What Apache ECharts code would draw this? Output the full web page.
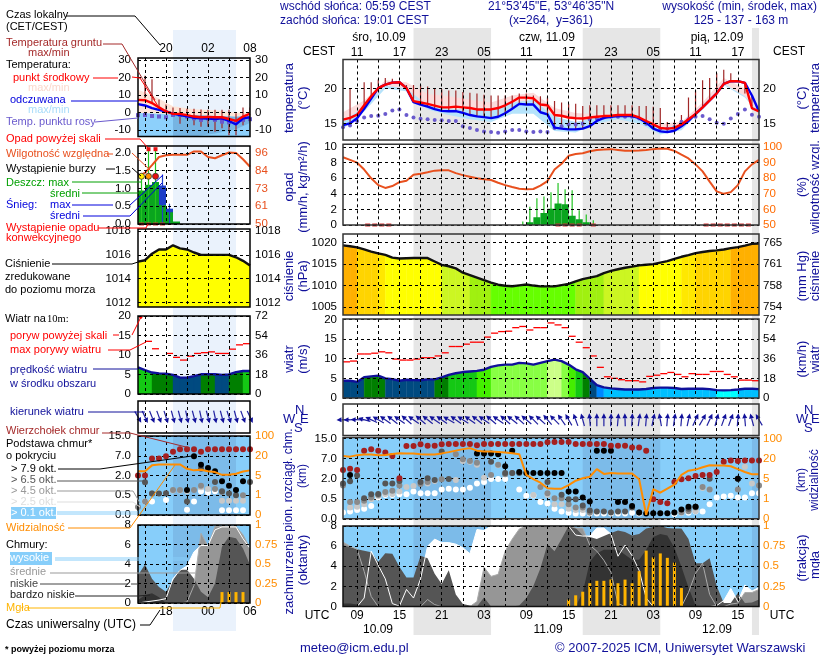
<!DOCTYPE html>
<html lang="pl">
<head>
<meta charset="utf-8">
<title>meteogram</title>
<style>html,body{margin:0;background:#fff}#main{width:820px;height:660px}</style>
</head>
<body>
<div id="main"></div>
<script src="https://cdn.jsdelivr.net/npm/echarts@6/dist/echarts.min.js"></script>
<script>
// hours are counted in UTC from 00:00 on 10.09
var hours = [7,8,9,10,11,12,13,14,15,16,17,18,19,20,21,22,23,24,25,26,27,28,29,30,31,32,33,34,35,36,37,38,39,40,41,42,43,44,45,46,47,48,49,50,51,52,53,54,55,56,57,58,59,60,61,62,63,64,65,66];
var gridHours = [9,12,15,18,21,24,27,30,33,36,39,42,45,48,51,54,57,60,63];
var labelHours = [9,15,21,27,33,39,45,51,57,63];
var nights = [[17,28],[41,52],[65,66]];

// main panels, one value per hour
var temp = [15.55,15.8,16.25,17.6,18.9,20.05,20.55,20.85,20.9,20.05,18.2,18,17.8,17.55,17.3,17.3,17.4,17.3,17.2,17,17,17,17.2,17.6,18.1,18.7,18.7,18.6,17.7,17.6,16.2,16.1,15.85,15.75,15.7,15.85,15.95,16.05,16.1,16.2,16.2,16.2,15.85,15.35,14.85,14.35,14.25,14.35,14.85,15.6,16.35,17.3,18.3,19.3,20.65,21.05,21.05,20.8,19,17.3];
temp[65-7] = 17.2; temp[66-7] = 16.7;
var feels = [14.75,15,15.75,17.1,18.55,20.05,20.55,20.85,20.9,20.05,18.05,17.7,17.4,17.05,16.8,16.75,16.75,16.5,16.2,16,15.9,15.75,15.95,16.45,17.1,17.8,17.7,17.7,16.6,16.3,14.4,14.25,14.15,14.15,14.25,14.6,15.35,15.8,15.95,16.05,16.1,16.05,15.75,15.1,14.25,13.85,13.75,13.95,14.6,15.35,16.35,17.3,18.3,19.3,20.65,21.05,21.05,20.8,19,17.2];
feels[66-7] = 16.7;
var dew = [14.45,14.7,15.35,15.85,16.05,16.1,16.35,16.85,17,16.2,15.85,15.65,15.6,15.5,15.45,15.35,15.35,14.6,14.35,14.05,13.85,13.75,13.65,13.85,14.05,14.05,13.85,13.75,13.85,13.75,14.35,14.6,14.85,14.85,14.95,15.6,15.7,15.85,15.95,15.95,15.95,15.95,15.7,14.95,14.6,14.25,14.25,14.45,15.25,15.6,15.95,16.05,15.6,15.1,14.95,15.7,16.35,17,16.25,15.95];
var groundHours = [8,10,11,12,13,14,15,16,17,18,19,20,21,22,23,24,25,26,27,28,29,30,31,32,33,34,35,36,37,38,39,40,41,42,43,44,45,46,47,48,49,50,51,52,53,54,55,56,57,58,59,60,61,62,63,64,65];
var groundMax = [20,20.9,20.9,21.3,21.5,21.4,20.9,20.5,20.5,20.5,20.3,20,19.9,19.7,19.7,19.5,19.4,19.3,19.1,19,19,19,19,19.3,19.3,19,18.9,18.7,18.2,18,17.8,17.8,17.5,17.6,17.6,17.6,17.6,17.6,17.6,17.6,17.5,17.5,17.4,17.2,15.2,15.2,16.2,18.7,19.7,21.2,21.5,22.2,22.7,22.2,21,19.3,17.5];
var bandHours = [7,10,13,16,19,22,25,28,31,34,37,40,43,46,49,52,55,58,61,64,66];
var tempHi = [16.6,18.3,21.2,20.9,19.2,18.9,18.4,18,19,19.4,17.2,16.5,16.3,16.4,16,15,15.2,18,21.5,20,17.3];
var tempLo = [15.3,17.4,20.3,19.8,17.6,17.1,17,16.8,17.9,18.4,16,15.5,15.9,16,15.6,14.1,14.6,17.1,20.7,18.8,16.5];
var feelsHi = [15.2,17.5,20.4,20,17.6,17.1,17,16.8,18,18.4,16,15.2,15.8,16.1,15.7,14.3,14.8,17.2,20.7,18.9,16.6];
var feelsLo = [14.2,16.7,20,19.6,17,16.2,15.6,15.2,16.4,16.4,13.9,13.7,15,15.6,15,13.4,14,17,20.5,18.7,16.4];

var humidity = [93.5,91.8,90,85.6,80,75.6,73.8,75,77.5,78.4,82.2,82.9,83.8,84.9,85.1,85.1,83.3,82,81,80,79.3,78.9,77.1,75.6,74.4,73.3,72.9,73.1,75.3,78.2,85.6,89.3,94.4,95.6,96,97.3,98.2,98.4,98.7,98.2,97.6,97.6,97.8,98.2,98.7,99.1,98.9,97.6,95.1,92.7,88.9,84.4,77.8,71.6,70,71.1,75.6,84.4,88.9,91.8];
var rainAvgHours = [33,34,35,36,37,38,39,40,41];
var rainAvg = [0.35,1,1.55,2.1,2.75,2.65,1.2,0.75,0.35];
var rainMaxHours = [32,33,34,35,36,37,38,39,40,41,42];
var rainMax = [0.45,2.35,3.45,3.65,4.2,5.4,4.6,4.45,1.9,1.35,0.6];
var convective = [10,11,12,13,37,38,39,40,42,58,59,60,61,62,63,64];

var pressure = [1019.35,1019.15,1018.9,1018.4,1017.9,1017.5,1017.15,1016.5,1016.3,1016.35,1016.4,1016.4,1016.4,1015.6,1014.8,1014.5,1014,1013,1012.45,1011.85,1011.25,1010.7,1010.2,1009.95,1009.85,1010.05,1010.25,1010,1009.8,1009.8,1009.8,1010.1,1010.4,1010.95,1011.5,1011.85,1012.2,1012.9,1013.4,1013.8,1014.15,1014.4,1014.7,1014.85,1015,1015.35,1015.7,1016.2,1016.7,1017.1,1017.55,1017.8,1018.05,1018.2,1018.4,1018.7,1018.95,1019.3,1019.7,1019.8];

var wind = [4.4,4.4,4.1,5.3,5.5,5.7,5,4.8,4.4,4.65,4.55,4.5,4.75,4.75,5.25,5.9,6.3,6.6,6.75,6.9,7.2,7.9,8.3,8.5,8.5,8.95,8.8,8.5,8.95,9.4,9.75,9.4,8.5,7.3,6.6,4.9,3.3,2.7,2.45,2.3,2.15,2.15,2.15,2.3,2.55,2.65,2.65,2.55,2.3,2.35,2.35,2.35,2.25,2,1.95,2,2.15,2.35,2.35,2.25];
var gust = [9.2,9.4,11.2,11.2,11.4,11.75,11.5,9.9,9.65,9.65,9.9,10.25,10.25,10.7,11.5,13.1,13.1,13.7,14.2,14.2,15.5,16.5,16.9,17,17.9,18.2,17.3,17.9,17.9,19.1,18.6,17.9,15.7,14.2,12.8,10.7,7.8,5.4,5,4.65,4.4,4.4,4.1,5.5,5.8,6.2,6.5,6,5.4,6.2,6,6,6.75,6.75,6,5.4,4.55,4.55,4.4];
var windDir = [268,268,272,285,295,300,305,308,305,310,305,310,308,305,305,300,305,303,305,308,305,310,305,310,308,312,310,315,312,320,315,325,330,340,345,355,0,0,2,5,358,3,8,5,12,350,5,8,5,12,25,30,25,15,20,20,5,355,345,330];

var cloudTop = [4.2,4.5,4.2,10.2,10.8,10.2,9.5,8.1,2.1,12,12,12.7,12.1,12.1,12.7,12.8,12.8,12.8,12.8,12.3,12.8,12.8,12.8,12.8,12.8,12.8,12.8,12.8,12.8,13.5,13.6,13.6,13.6,12.8,12.8,12.8,12.8,12.8,12.1,12.1,12.1,11.4,11.4,10.2,0.49,0.42,0.39,1.76,1.95,2.1,2.7,2.95,2.95,3.65,6.2,6.55,6.4,6.55,6.55,6.55];
var base79 = [[8,2.95],[26,9.1],[27,9.1],[28,9.1],[29,8.8],[30,5.1],[31,10.2],[32,3.65],[33,3.4],[34,3.4],[35,3.4],[36,3.4],[37,3.4],[38,3.4],[39,1.04],[40,1.04],[41,0.6],[42,0.43],[43,10.2],[44,10.2],[45,10.2],[46,0.42],[47,0.42],[48,0.32],[49,0.16],[50,0.13],[51,0.14],[52,0.14],[53,0.14],[54,0.16],[55,0.23],[56,0.3],[57,0.3],[63,2]];
var base65 = [[7,1.64],[8,1.8],[9,2.8],[10,0.53],[11,0.83],[12,0.86],[13,1.64],[14,1.64],[15,1.82],[18,1.76],[19,2.1],[20,1.9],[21,9.9],[22,1.97],[28,6.2],[30,3.4],[31,3.4],[32,3.4],[36,1.76],[38,0.8],[39,0.49],[40,0.49],[41,0.33],[42,0.21],[43,0.18],[44,0.18],[45,0.16],[46,0.18],[47,0.18],[48,0.28],[49,0.16],[56,0.25],[57,0.3],[59,2],[63,2]];
var base45 = [[7,1.5],[8,0.42],[9,0.42],[10,0.45],[11,0.6],[12,0.78],[13,1],[14,1.1],[15,1.5],[18,1.6],[19,1.76],[21,1.95],[23,8.8],[24,6.85],[25,6.4],[26,5.95],[28,2.95],[29,5.5],[30,3.1],[31,3.4],[35,1.38],[36,0.92],[37,0.53],[38,0.53],[39,0.36],[40,0.28],[41,0.28],[42,0.16],[55,0.16],[56,0.19],[57,0.28],[58,1.38],[59,1.2],[63,1.2],[66,1.5]];
var base25 = [[8,0.28],[9,0.3],[10,0.36],[11,0.49],[12,0.7],[13,0.86],[14,0.86],[15,1.04],[16,1.38],[17,1.45],[18,1.64],[19,1.64],[20,1.82],[23,1.9],[24,6.4],[25,6.2],[26,5.5],[27,2.25],[29,5.35],[34,0.78],[35,1.45],[36,0.78],[37,0.36],[38,0.36],[39,0.25],[40,0.22],[41,0.22],[42,0.15],[57,0.19],[58,1.3],[59,1.2],[64,5],[65,1.64],[66,1.5]];
var base01 = [[7,0.16],[8,0.18],[9,0.22],[10,0.25],[11,0.32],[12,0.6],[13,0.78],[14,0.78],[15,0.83],[16,0.83],[17,1.04],[18,0.92],[19,0.92],[20,0.92],[21,1.2],[22,1.25],[23,1.2],[24,1.2],[25,1.32],[26,1.64],[27,1.76],[28,1.97],[29,1.97],[30,1.97],[32,1.2],[33,0.72],[34,0.75],[35,0.42],[36,0.38],[37,0.25],[38,0.18],[39,0.15],[40,0.13],[41,0.13],[42,0.13],[43,0.13],[44,0.13],[45,0.13],[46,0.13],[47,0.13],[48,0.15],[49,0.13],[54,0.12],[55,0.15],[56,0.15],[57,0.18],[58,0.18],[59,0.36],[60,0.6],[61,0.66],[62,0.72],[63,0.6],[64,0.6],[65,0.92],[66,0.92]];
var visibility = [31,28,34,37,37,34,35,39,42,41,41,38,37,37,41,46,52,58,62,52,49,49,47,45,42,38,7.9,4.9,4.2,3.1,3,3,3.7,4.6,5.3,6.5,12.2,8.6,9.2,8.9,8.9,8.9,4.9,0.2,2.9,2.2,3,3.8,7.9,11,11.8,13.6,15,14.9,14.9,14.3,12.2,10,8.3,8.3];

var cloudHigh = [0,0,0,0.85,5.5,4.1,2.75,0.3,0.05,1.7,0.85,2.75,6,6.7,6.35,6.35,6.2,5.85,5.25,7.65,7.55,8,8,8,8,8,8,8,8,8,8,8,8,7.1,7,7,7.8,7.8,7.2,5,6.1,5.05,3.6,0.85,0,0,0,0,0,0,0,0,0,0.1,0.6,1.8,0.5,2.15,1.55,1.9];
var cloudMid = [6.4,6,5.7,3.5,1,0,0,0,0,0,0,0,0.7,0.2,0,0,0,0,0,0.5,3.9,3,3.2,5.5,6.7,7.7,8,8,8,8,8,8,8,7.8,7.8,6.1,5.5,4.6,3.4,0.3,0,0,0,0,0,0,0,0,0,1.4,3.3,4.3,1.2,0,0,0.25,0.35,1.4,1.4,1.7];
var cloudLow = [6.1,5.9,5.7,5.55,5.4,4.45,5.3,5.25,3.95,2.9,2.9,5.05,4.8,3.25,2.25,3.6,1.2,0.25,0.1,0,0.9,0,0,0,0,0.1,0.85,2.05,3.8,6.2,5.5,6.7,8,7.8,7.05,6.9,6.7,7,7.3,7.55,7.4,7.05,7.2,7.75,7.9,8,7.8,7.75,7.75,6.7,4.3,4.3,4.8,2.05,0.35,0.35,1.35,0.35,0.4,0.7];
var cloudVeryLow = [0.3,0.3,0.2,0,0,0,0,0,0,0,0,0,0,0,0,0,0,0,0,0,0,0,0,0,0,0,0,0,0,0,0,0,0,0,1.4,4.45,5.3,5.65,5.65,5.65,5.15,4.65,4.65,5.65,6.9,7.2,7.05,5.85,3.95,1.9,0.1,0,0,0,0,0,0,0,0,0];
var fogHours = [39,40,41,42,43,44,45,46,47,48,49,50,51,52,53,54,55];
var fog = [0.086,0.14,0.185,0.29,0.32,0.32,0.335,0.29,0.335,0.29,0.44,0.695,0.61,0.66,0.605,0.545,0.23];

// narrow panels on the left (legend), hours 14 to 30
var lHours = [14,15,16,17,18,19,20,21,22,23,24,25,26,27,28,29,30];
var lGridHours = [15,18,21,24,27];
var lLabelHours = [18,24,30];
var lNight = [[19,28]];
var lTemp = [7.2,7,5.4,2.9,0.6,-0.8,-0.8,-1.5,-2.3,-2.7,-2.5,-2.7,-2.7,-3.7,-4.8,-2.3,-0.6];
var lFeels = [4.8,4,2.5,1.5,0.6,-0.6,-1.5,-2.1,-3,-3.3,-3.5,-3.7,-3.3,-4.8,-6.8,-3.3,-2.7];
var lDew = [-1.5,-1.4,-2,-2.3,-2.7,-1.4,-1.4,-2.3,-3.3,-4.2,-3.3,-4.2,-5.2,-5.6,-5.2,-4.2,-3.8];
var lGroundHours = [15,16,17,18,19,20,21,22,23,24,25,26,27,28,29,30];
var lGroundMax = [20.9,18.9,7.4,4.5,2.9,2.5,2.1,2.1,1.7,1.5,1.5,1.5,1.5,-0.4,2.9,2.9];
var lGroundMin = [8.1,5.4,1.5,-0.4,-2.3,-6.4,-3.3,-7.2,-8.1,-8.1,-11,-9,-13,-13,-7.2,-2.3];
var lBandHours = [14,16,19,22,25,28,30];
var lTempHi = [13,10,3.6,1.8,1.3,-0.2,0];
var lTempLo = [-0.3,-0.6,-1,-1.5,-2,-2.4,-2];
var lFeelsHi = [-0.3,-0.6,-1,-1.5,-2,-2.4,-2];
var lShadeHours = [19,22,25,28,30];
var lShadeHi = [-1,-1.5,-2,-2.4,-2];
var lShadeLo = [-13.7,-13.7,-12,-9.5,-6];
var lHumidity = [81.2,83,88,93.3,94.4,94.7,94.7,94.7,96.9,96.9,93.3,92.5,94.4,96.2,95.8,91.8,87];
var lRainHours = [14,15,16,17,18,19];
var lRain = [0.94,1.1,1.18,0.53,0.33,0.07];
var lSnowHours = [17,18];
var lSnow = [1.08,0.43];
var lRainMaxHours = [14,15,16];
var lRainMax = [1.34,2.1,2.1];
var lSnowMaxHours = [17,18];
var lSnowMax = [1.39,0.57];
var lStorm = [14,15,16];
var lAboveScale = [15,16];
var lConvective = [14,15,16,17];
var lPressure = [1015.44,1015.55,1016.1,1016.45,1016.45,1016.8,1016.55,1016.45,1016.2,1016,1016,1016,1016,1016,1015.8,1015.5,1015.1];
var lWind = [6.8,6.1,5.5,5.3,5.2,4.9,4.2,4.2,4.6,5.05,5.05,5.05,4.9,5,5.6,5.9,5.9];
var lGust = [null,13.5,11.6,null,10.4,9.4,8.7,9.7,10.4,10.6,10.8,10.4,10.4,11.5,12.6,12.9];
var lWindDir = [150,155,158,160,162,165,165,168,165,168,165,168,165,162,165,160,155];
var lCloudTop = [2,2,6.3,6.3,6.85,8.6,9.6,9.6,9.6,8.6,9.6,9.6,9.6,9.6,9.6,9.6,9.6];
var lBase79 = [[21,0.9],[22,6.9],[23,4.75],[24,3.9],[25,3.1],[26,1.56],[27,1.23],[28,0.9],[29,1.56]];
var lBase65 = [[15,1.49],[16,0.64],[17,0.64],[18,0.66],[21,0.34],[23,3.7],[25,1.5],[26,0.8],[27,0.64],[28,0.5],[30,1.5]];
var lBase45 = [[14,0.2],[15,0.34],[16,0.64],[19,0.9],[20,0.9],[22,0.9],[23,1.23],[25,0.98],[26,0.75],[29,0.5]];
var lBase25 = [[19,0.87],[20,0.87],[21,0.8],[23,1.1],[24,0.98],[26,0.36],[27,0.36],[28,0.36],[29,0.36]];
var lBase01 = [[15,0.34],[16,0.34],[18,0.38],[21,0.13],[22,0.34],[23,0.8],[24,0.7],[25,0.8],[26,0.12],[27,0.12],[28,0.12],[29,0.12]];
var lVisibility = [8.3,8.3,12.7,13.4,13.4,13.4,13.4,10.1,8.9,9.4,8.3,7.6,5.5,5.5,6.3,8,8.9];
var lCloudHigh = [0,0.1,0.2,0.3,0.45,2.5,3.35,3.8,5.25,5.9,5.9,7.5,7.8,7.8,7.8,6.6,5.6];
var lCloudMid = [0,0,0,0,0,0,0,0.1,1.8,7.15,5.8,7.85,7.85,7.85,7.85,7,5.6];
var lCloudLow = [2.85,3.95,2.5,1.65,1.15,2.35,3.4,3.4,2.5,1.15,0.6,2,5.8,6.8,6.65,5.6,3.9];
var lCloudVeryLow = [0.3,0.8,1,0.6,0,0,0,0,0,0,0,0,0,0,0,0,0];
var lFogHours = [26,27,28,29];
var lFog = [0.14,0.14,0.14,0.14];

// axis tick labels
var baseKm = [0,0.5,2,7,15];
var baseLabels = ['0.0','0.5','2.0','7.0','15.0'];
var visKm = [0,1,5,20,100];

var FONT = '"Liberation Sans", Arial, sans-serif';
var NAVY = '#10109a';
var ORANGE = '#ff8c00';
var grids = [], xAxes = [], yAxes = [], series = [], graphics = [];

function zip(a, b) { return a.map(function (v, i) { return [v, b[i]]; }); }
function two(h) { h = ((h % 24) + 24) % 24; return (h < 10 ? '0' : '') + h; }
// the cloud height and visibility axes are linear between their labelled values
function scalePos(v, breaks) {
    for (var i = 1; i < breaks.length; i++) {
        if (v <= breaks[i]) return i - 1 + (v - breaks[i - 1]) / (breaks[i] - breaks[i - 1]);
    }
    return breaks.length - 1;
}
function pressureColor(p) {
    if (p >= 1018.8) return '#ffb000';
    if (p >= 1017.4) return '#ffd400';
    if (p >= 1016.85) return '#ffe800';
    if (p >= 1014.7) return '#ffff00';
    if (p >= 1012.6) return '#ccf622';
    if (p >= 1010.95) return '#a0f010';
    return '#66ff00';
}
function windColor(v) {
    if (v >= 9.2) return '#ccff88';
    if (v >= 8) return '#88ff44';
    if (v >= 7) return '#44ee00';
    if (v >= 5.8) return '#14c814';
    if (v >= 5) return '#007f00';
    if (v >= 3.5) return '#004a80';
    if (v >= 2.95) return '#0088ff';
    if (v >= 2.1) return '#00c0ff';
    return '#00ffff';
}

function addPanel(o) {
    var idx = grids.length;
    grids.push({ left: o.x.left, width: o.x.width, top: o.top, height: o.bottom - o.top });
    var splitX = { show: true, lineStyle: { color: '#000', type: [3, 3], width: 1 } };
    xAxes.push({
        type: 'value', gridIndex: idx, min: o.x.min, max: o.x.max, z: 10,
        position: o.labelTop ? 'top' : 'bottom',
        axisLine: { show: false }, axisTick: { show: false, customValues: o.x.grid },
        splitLine: splitX,
        axisLabel: {
            show: !!(o.labelTop || o.labelBottom), customValues: o.x.labels,
            margin: o.labelTop ? o.x.marginTop : o.x.marginBottom,
            color: '#000', fontFamily: FONT, fontSize: 12,
            showMinLabel: true, showMaxLabel: true, hideOverlap: false,
            formatter: function (v) { return two(o.labelTop ? v + 2 : v); }
        }
    });
    var yl = yAxes.length;
    var hasTicks = !!o.ticks;
    yAxes.push({
        type: 'value', gridIndex: idx, min: o.min, max: o.max, position: 'left', z: 10,
        axisLine: { show: false }, axisTick: { show: false, customValues: o.ticks || [0] },
        splitLine: { show: hasTicks, lineStyle: { color: '#000', type: [3, 3], width: 1 } },
        axisLabel: {
            show: hasTicks, customValues: o.ticks || [0], margin: o.x.marginLeft, color: '#000', fontFamily: FONT, fontSize: 11.5,
            showMinLabel: true, showMaxLabel: true, hideOverlap: false,
            formatter: o.fmt || function (v) { return String(v); }
        }
    });
    var yr = yl;
    if (hasTicks) {
        yr = yAxes.length;
        yAxes.push({
            type: 'value', gridIndex: idx, min: o.min2 !== undefined ? o.min2 : o.min, max: o.max2 !== undefined ? o.max2 : o.max, position: 'right', z: 10,
            axisLine: { show: false }, axisTick: { show: false, customValues: o.ticks2 || o.ticks },
            splitLine: { show: false },
            axisLabel: {
                show: true, customValues: o.ticks2 || o.ticks, margin: o.x.marginRight, color: o.color2 || '#000', fontFamily: FONT, fontSize: 11.5,
                showMinLabel: true, showMaxLabel: true, hideOverlap: false,
                formatter: o.fmt2 || o.fmt || function (v) { return String(v); }
            }
        });
    }
    return { x: idx, y: yl, y2: yr, min: o.min, max: o.max, xr: o.x };
}

function add(p, s, useRight) {
    s.xAxisIndex = p.x;
    s.yAxisIndex = useRight ? p.y2 : p.y;
    s.animation = false;
    s.silent = true;
    series.push(s);
}
function lineS(p, xs, ys, color, width, z, useRight) {
    add(p, { type: 'line', data: zip(xs, ys), showSymbol: false, z: z, clip: true, connectNulls: false,
        lineStyle: { color: color, width: width } }, useRight);
}
function dotS(p, data, color, size, z, symbol, useRight, border) {
    add(p, { type: 'scatter', data: data, symbol: symbol || 'circle', symbolSize: size, z: z, clip: false,
        itemStyle: { color: color, opacity: 1, borderColor: border || color, borderWidth: border ? 0.8 : 0 } }, useRight);
}
// filled band between two curves
function bandS(p, xs, top, bottom, color, z) {
    add(p, { type: 'custom', z: z, clip: true, data: zip(xs, top), encode: { x: 0, y: 1 },
        renderItem: function (params, api) {
            if (params.dataIndex > 0) return null;
            var pts = [], i;
            for (i = 0; i < xs.length; i++) pts.push(api.coord([xs[i], top[i]]));
            for (i = xs.length - 1; i >= 0; i--) pts.push(api.coord([xs[i], bottom === null ? p.min : bottom[i]]));
            return { type: 'polygon', shape: { points: pts }, style: { fill: color } };
        } });
}
// area under a curve, each hour coloured by its value
function stripS(p, xs, ys, colorFn, z) {
    add(p, { type: 'custom', z: z, clip: true, data: zip(xs, ys), encode: { x: 0, y: 1 },
        renderItem: function (params, api) {
            var i = params.dataIndex;
            if (i >= xs.length - 1) return null;
            var c = colorFn((ys[i] + ys[i + 1]) / 2);
            return { type: 'polygon', shape: { points: [api.coord([xs[i], ys[i]]), api.coord([xs[i + 1], ys[i + 1]]),
                api.coord([xs[i + 1], p.min]), api.coord([xs[i], p.min])] }, style: { fill: c, stroke: c, lineWidth: 0.4 } };
        } });
}
// one-hour bars, the hour given is the start of the bin
function binS(p, xs, ys, color, z) {
    add(p, { type: 'custom', z: z, clip: true, data: zip(xs, ys), encode: { x: 0, y: 1 },
        renderItem: function (params, api) {
            var a = api.coord([api.value(0), api.value(1)]), b = api.coord([api.value(0) + 1, p.min]);
            return { type: 'rect', shape: { x: a[0], y: a[1], width: b[0] - a[0], height: b[1] - a[1] }, style: { fill: color } };
        } });
}
// thin spike in the middle of an hour bin
function spikeS(p, xs, ys, color, width, z, lows) {
    add(p, { type: 'custom', z: z, clip: true, data: zip(xs, ys), encode: { x: 0, y: 1 },
        renderItem: function (params, api) {
            var x0 = lows ? api.value(0) : api.value(0) + 0.5;
            var a = api.coord([x0, api.value(1)]), b = api.coord([x0, lows ? lows[params.dataIndex] : p.min]);
            return { type: 'line', shape: { x1: a[0], y1: a[1], x2: b[0], y2: b[1] }, style: { stroke: color, lineWidth: width } };
        } });
}
// gust: a horizontal dash across one hour
function dashS(p, xs, ys, color, z) {
    var d = [];
    for (var i = 0; i < ys.length; i++) if (ys[i] !== null) d.push([xs[i], ys[i]]);
    add(p, { type: 'custom', z: z, clip: true, data: d, encode: { x: 0, y: 1 },
        renderItem: function (params, api) {
            var a = api.coord([api.value(0), api.value(1)]), b = api.coord([api.value(0) + 1, api.value(1)]);
            return { type: 'line', shape: { x1: a[0], y1: a[1], x2: b[0], y2: b[1] }, style: { stroke: color, lineWidth: 1.3 } };
        } });
}
// wind arrows centred on the panel, drawn in the direction the air moves
function arrowS(p, xs, dirs, z) {
    add(p, { type: 'custom', z: z, clip: false, data: zip(xs, dirs), encode: { x: 0 },
        renderItem: function (params, api) {
            var c = api.coord([api.value(0), 0.5]), d = api.value(1) * Math.PI / 180;
            var ux = Math.sin(d), uy = -Math.cos(d), L = 6.5;
            var hx = c[0] + ux * L, hy = c[1] + uy * L, bx = hx - ux * 5, by = hy - uy * 5;
            return { type: 'group', children: [
                { type: 'line', shape: { x1: c[0] - ux * L, y1: c[1] - uy * L, x2: bx, y2: by }, style: { stroke: '#2020a0', lineWidth: 1.2 } },
                { type: 'polygon', shape: { points: [[hx, hy], [bx - uy * 2.5, by + ux * 2.5], [bx + uy * 2.5, by - ux * 2.5]] }, style: { fill: '#10109a' } }
            ] };
        } });
}
// plain rectangle filling the panel, with the night hours in a second colour
function skyS(p, nightsList, color, nightColor, z) {
    add(p, { type: 'custom', z: z, data: [[p.xr.min, p.min]], encode: { x: 0, y: 1 },
        renderItem: function (params, api) {
            var r = params.coordSys, kids = [{ type: 'rect', shape: { x: r.x, y: r.y, width: r.width, height: r.height }, style: { fill: color } }];
            nightsList.forEach(function (n) {
                var a = api.coord([n[0], p.min])[0], b = api.coord([n[1], p.min])[0];
                kids.push({ type: 'rect', shape: { x: a, y: r.y, width: b - a, height: r.height }, style: { fill: nightColor } });
            });
            return { type: 'group', children: kids };
        } });
}
function frameS(p, color, width) {
    add(p, { type: 'custom', z: 14, data: [[p.xr.min, p.min]], encode: { x: 0, y: 1 },
        renderItem: function (params) {
            var r = params.coordSys;
            return { type: 'rect', shape: { x: r.x, y: r.y, width: r.width, height: r.height }, style: { fill: 'none', stroke: color, lineWidth: width } };
        } });
}
// night (or evening) bands behind all panels
function backBand(xr, top, bottom, ranges, color) {
    var idx = grids.length;
    grids.push({ left: xr.left, width: xr.width, top: top, height: bottom - top });
    xAxes.push({ type: 'value', gridIndex: idx, min: xr.min, max: xr.max, show: false });
    yAxes.push({ type: 'value', gridIndex: idx, min: 0, max: 1, show: false });
    series.push({ type: 'custom', xAxisIndex: idx, yAxisIndex: yAxes.length - 1, z: 0, silent: true, animation: false,
        data: ranges, encode: { x: [0, 1] },
        renderItem: function (params, api) {
            var a = api.coord([api.value(0), 1]), b = api.coord([api.value(1), 0]);
            return { type: 'rect', shape: { x: a[0], y: a[1], width: b[0] - a[0], height: b[1] - a[1] }, style: { fill: color } };
        } });
}

function drawClouds(p, xs, high, mid, low, veryLow, fogX, fogV) {
    skyS(p, p.night, '#87cefa', '#7cbbe9', 1);
    bandS(p, xs, high, null, '#ffffff', 2);
    bandS(p, xs, mid, null, '#969696', 3);
    bandS(p, xs, low, null, '#555555', 4);
    bandS(p, xs, veryLow, null, '#333333', 5);
    lineS(p, xs, mid, '#aaaaaa', 1, 6);
    lineS(p, xs, high, '#ffffff', 1, 7);
    add(p, { type: 'bar', data: zip(fogX, fogV), barWidth: 3, z: 8, itemStyle: { color: '#ffb400' } }, true);
}
function drawBases(p, tops, xs, b79, b65, b45, b25, b01, vis) {
    skyS(p, p.night, '#87cefa', '#7cbbe9', 1);
    function pos(list) { return list.map(function (d) { return [d[0], scalePos(d[1], baseKm)]; }); }
    dotS(p, pos(b01), '#ffffff', 6, 12);
    dotS(p, pos(b25), '#c8c8c8', 6, 12);
    dotS(p, pos(b45), '#8a8a8a', 6, 12);
    dotS(p, pos(b65), '#555555', 6, 12);
    dotS(p, pos(b79), '#000000', 6, 12);
    dotS(p, zip(xs, tops).map(function (d) { return [d[0], scalePos(d[1], baseKm)]; }), '#a52020', 6, 12);
    lineS(p, xs, vis.map(function (v) { return scalePos(v, visKm); }), ORANGE, 2, 13);
}

var mainX = { left: 343, width: 416, min: 7, max: 66, grid: gridHours, labels: labelHours, marginTop: 1, marginBottom: 3, marginLeft: 6, marginRight: 4 };
var leftX = { left: 138, width: 112, min: 14, max: 30, grid: lGridHours, labels: lLabelHours, marginTop: 3, marginBottom: 3, marginLeft: 7, marginRight: 5 };

backBand(mainX, 28, 635, nights, '#e6e6e6');
backBand(leftX, 30, 631, lNight, '#eaf2fc');

// ---- main panels
var mTemp = addPanel({ x: mainX, top: 59.5, bottom: 140, min: 12.62, max: 24.16, ticks: [15, 20], labelTop: true });
bandS(mTemp, bandHours, tempHi, tempLo, '#fbdcdc', 2);
bandS(mTemp, bandHours, feelsHi, feelsLo, '#b5e3fb', 3);
spikeS(mTemp, groundHours, groundMax, '#a02828', 1.2, 4, groundHours.map(function (h) { return feels[h - 7]; }));
dotS(mTemp, zip(hours, dew), '#6a5acd', 4, 6);
lineS(mTemp, hours, feels, '#0000ee', 2.4, 7);
lineS(mTemp, hours, temp, '#ff0000', 2.4, 8);
frameS(mTemp, '#333', 1.5);

var mRain = addPanel({ x: mainX, top: 144.3, bottom: 225, min: 0, max: 10.36, ticks: [0, 2, 4, 6, 8, 10],
    min2: 50, max2: 101.8, ticks2: [50, 60, 70, 80, 90, 100], color2: '#ff6a00' });
spikeS(mRain, rainMaxHours, rainMax, '#22c422', 1.2, 3);
binS(mRain, rainAvgHours, rainAvg, '#0aa51e', 4);
dotS(mRain, convective.map(function (h) { return [h + 0.5, 0]; }), '#d03030', [5, 3], 6, 'rect');
lineS(mRain, hours, humidity, '#e8501e', 2, 7, true);
frameS(mRain, '#333', 1.5);

var mPress = addPanel({ x: mainX, top: 234, bottom: 315, min: 1003.15, max: 1022, ticks: [1005, 1010, 1015, 1020],
    fmt2: function (v) { return String(Math.round(v * 0.750062)); } });
stripS(mPress, hours, pressure, pressureColor, 2);
lineS(mPress, hours, pressure, '#111', 2.4, 8);
frameS(mPress, '#333', 1.5);

var mWind = addPanel({ x: mainX, top: 319, bottom: 398, min: 0, max: 20.1, ticks: [0, 5, 10, 15, 20],
    fmt2: function (v) { return String(Math.round(v * 3.6)); } });
stripS(mWind, hours, wind, windColor, 2);
dashS(mWind, hours, gust, '#ff0000', 6);
lineS(mWind, hours, wind, '#10109a', 2.4, 8);
frameS(mWind, '#333', 1.5);

var mDir = addPanel({ x: mainX, top: 404, bottom: 435.5, min: 0, max: 1 });
arrowS(mDir, hours, windDir, 12);
frameS(mDir, '#333', 1.5);

var mBase = addPanel({ x: mainX, top: 437.6, bottom: 518.8, min: 0, max: 4.05, ticks: [0, 1, 2, 3, 4],
    fmt: function (v) { return baseLabels[v]; }, fmt2: function (v) { return String(visKm[v]); }, color2: ORANGE });
mBase.night = nights;
drawBases(mBase, cloudTop, hours, base79, base65, base45, base25, base01, visibility);
frameS(mBase, '#333', 1.5);

var mCloud = addPanel({ x: mainX, top: 526, bottom: 606.6, min: 0, max: 8, ticks: [0, 2, 4, 6, 8], labelBottom: true,
    min2: 0, max2: 1, ticks2: [0, 0.25, 0.5, 0.75, 1], color2: ORANGE });
mCloud.night = nights;
drawClouds(mCloud, hours, cloudHigh, cloudMid, cloudLow, cloudVeryLow, fogHours, fog);
frameS(mCloud, '#111', 1.5);

// ---- left panels
var lT = addPanel({ x: leftX, top: 58, bottom: 136.6, min: -13.7, max: 31, ticks: [-10, 0, 10, 20, 30], labelTop: true });
bandS(lT, lBandHours, lTempHi, lTempLo, '#fde5d8', 2);
bandS(lT, lBandHours, lFeelsHi, null, '#8dd0fb', 3);
bandS(lT, lShadeHours, lShadeHi, lShadeLo, '#76b4e2', 3);
spikeS(lT, lGroundHours, lGroundMax, '#a02828', 1.2, 4, lGroundMin);
dotS(lT, zip(lHours, lDew), '#6a5acd', 4, 6, 'rect');
lineS(lT, lHours, lFeels, '#0000ee', 2.4, 7);
lineS(lT, lHours, lTemp, '#ff0000', 2.4, 8);
frameS(lT, '#000', 1.5);

var lR = addPanel({ x: leftX, top: 146, bottom: 224, min: 0, max: 2.19, ticks: [0, 0.5, 1, 1.5, 2],
    fmt: function (v) { return v.toFixed(1); },
    min2: 50, max2: 100.4, ticks2: [50, 61.5, 73, 84.5, 96], color2: '#e8501e', fmt2: function (v) { return String(Math.floor(v)); } });
binS(lR, lSnowHours, lSnow, '#1f3fc8', 3);
binS(lR, lRainHours, lRain, '#0aa51e', 4);
spikeS(lR, lSnowMaxHours, lSnowMax, '#1f3fc8', 1.2, 5);
spikeS(lR, lRainMaxHours, lRainMax, '#22c422', 1.2, 5);
dotS(lR, lAboveScale.map(function (h) { return [h + 0.5, 2.1]; }), '#e81010', 4, 9, 'rect');
dotS(lR, [[lStorm[0] + 0.5, 1.34]], '#ffee00', 6, 9, 'circle', false, '#333');
dotS(lR, [[lStorm[1] + 0.5, 1.34]], '#ff9000', 6, 9, 'circle', false, '#333');
dotS(lR, [[lStorm[2] + 0.5, 1.34]], '#e81010', 6, 9, 'circle', false, '#333');
dotS(lR, lConvective.map(function (h) { return [h + 0.5, 0]; }), '#d03030', [5, 3], 6, 'rect');
lineS(lR, lHours, lHumidity, '#e8501e', 2, 7, true);
frameS(lR, '#000', 1.5);

var lP = addPanel({ x: leftX, top: 229, bottom: 307, min: 1011.63, max: 1018.17, ticks: [1012, 1014, 1016, 1018] });
stripS(lP, lHours, lPressure, pressureColor, 2);
lineS(lP, lHours, lPressure, '#111', 2.4, 8);
frameS(lP, '#000', 1.5);

var lW = addPanel({ x: leftX, top: 316, bottom: 394, min: 0, max: 20, ticks: [0, 5, 10, 15, 20],
    fmt2: function (v) { return String(Math.round(v * 3.6)); } });
stripS(lW, lHours, lWind, windColor, 2);
dashS(lW, lHours, lGust, '#ff0000', 6);
dotS(lW, [[14.4, 19.7]], '#ff0000', 3, 9);
lineS(lW, lHours, lWind, '#10109a', 2.4, 8);
frameS(lW, '#000', 1.5);

var lD = addPanel({ x: leftX, top: 401, bottom: 433, min: 0, max: 1 });
arrowS(lD, lHours, lWindDir, 12);
frameS(lD, '#000', 1.5);

var lB = addPanel({ x: leftX, top: 436, bottom: 515, min: 0, max: 4, ticks: [0, 1, 2, 3, 4],
    fmt: function (v) { return baseLabels[v]; }, fmt2: function (v) { return String(visKm[v]); }, color2: ORANGE });
lB.night = lNight;
drawBases(lB, lCloudTop, lHours, lBase79, lBase65, lBase45, lBase25, lBase01, lVisibility);
frameS(lB, '#000', 1.5);

var lC = addPanel({ x: leftX, top: 525, bottom: 603, min: 0, max: 8, ticks: [0, 2, 4, 6, 8], labelBottom: true,
    min2: 0, max2: 1, ticks2: [0, 0.25, 0.5, 0.75, 1], color2: ORANGE });
lC.night = lNight;
drawClouds(lC, lHours, lCloudHigh, lCloudMid, lCloudLow, lCloudVeryLow, lFogHours, lFog);
frameS(lC, '#000', 1.5);

// ---- texts and leader lines
function txt(x, y, s, color, opt) {
    opt = opt || {};
    graphics.push({ type: 'text', x: x, y: y, z: 30, silent: true, rotation: opt.rot ? Math.PI / 2 : 0,
        style: { text: s, fill: color || '#000', font: (opt.font || '11px') + ' ' + (opt.family || FONT),
            textAlign: opt.align || 'left', textVerticalAlign: 'middle' } });
}
function box(x, y, w, h, color) {
    graphics.push({ type: 'rect', z: 29, silent: true, shape: { x: x, y: y, width: w, height: h }, style: { fill: color } });
}
function lead(points, color) {
    graphics.push({ type: 'polyline', z: 28, silent: true, shape: { points: points }, style: { stroke: color || '#000', lineWidth: 1, fill: 'none' } });
}
var M = { font: '12px' };
txt(280, 7, 'wschód słońca: 05:59 CEST', NAVY, M);
txt(280, 21, 'zachód słońca: 19:01 CEST', NAVY, M);
txt(551, 7, '21°53\'45"E, 53°46\'35"N', NAVY, { font: '12px', align: 'center' });
txt(551, 21, '(x=264,  y=361)', NAVY, { font: '12px', align: 'center' });
txt(817, 7, 'wysokość (min, środek, max)', NAVY, { font: '12px', align: 'right' });
txt(741, 21, '125 - 137 - 163 m', NAVY, { font: '12px', align: 'center' });
txt(379, 38, 'śro, 10.09', '#000', { font: '12px', align: 'center' });
txt(547, 38, 'czw, 11.09', '#000', { font: '12px', align: 'center' });
txt(717, 38, 'pią, 12.09', '#000', { font: '12px', align: 'center' });
txt(319, 52, 'CEST', '#000', { font: '12px', align: 'center' });
txt(789, 52, 'CEST', '#000', { font: '12px', align: 'center' });
txt(317, 616, 'UTC', '#000', { font: '12px', align: 'center' });
txt(782, 616, 'UTC', '#000', { font: '12px', align: 'center' });
txt(378, 630, '10.09', '#000', { font: '12px', align: 'center' });
txt(548, 630, '11.09', '#000', { font: '12px', align: 'center' });
txt(717, 630, '12.09', '#000', { font: '12px', align: 'center' });
txt(300, 648, 'meteo@icm.edu.pl', NAVY, { font: '13px' });
txt(555, 648, '© 2007-2025 ICM, Uniwersytet Warszawski', NAVY, { font: '13px' });

// axis titles: left outer, left inner, right inner, right outer, each with its centre
[['temperatura', 98, '(°C)', 98, '(°C)', 98, 'temperatura', 98, '13px'],
 ['opad', 187, '(mm/h, kg/m²/h)', 187, '(%)', 187, 'wilgotność wzgl.', 187, '13px'],
 ['ciśnienie', 276, '(hPa)', 276, '(mm Hg)', 276, 'ciśnienie', 276, '13px'],
 ['wiatr', 359, '(m/s)', 359, '(km/h)', 359, 'wiatr', 359, '13px'],
 ['pion. rozciągł. chm.', 480, '(km)', 476, '(km)', 480, 'widzialność', 480, '12px'],
 ['zachmurzenie', 574, '(oktanty)', 560, '(frakcja)', 558, 'mgła', 565, '13px']].forEach(function (r) {
    var R = { rot: true, align: 'center', font: r[8] };
    txt(289, r[1], r[0], NAVY, R);
    txt(303, r[3], r[2], NAVY, R);
    txt(802, r[5], r[4], NAVY, R);
    txt(815, r[7], r[6], NAVY, R);
});
var C = { font: '13px' };
txt(283, 419, 'W', NAVY, C); txt(295, 410, 'N', NAVY, C); txt(300, 419, 'E', NAVY, C); txt(294, 428, 'S', NAVY, C);
txt(796, 419, 'W', NAVY, C); txt(804, 410, 'N', NAVY, C); txt(811, 419, 'E', NAVY, C); txt(804, 428, 'S', NAVY, C);

var BR = '#a52a2a', RD = '#ff0000', BL = '#0000dd', OR = '#e8501e', GR = '#00a000';
txt(6, 15, 'Czas lokalny'); txt(6, 27, '(CET/CEST)');
lead([[66, 16], [135, 16], [160, 45]]);
txt(6, 43, 'Temperatura gruntu', BR); txt(28, 53, 'max/min', BR);
lead([[103, 44], [122, 44], [155, 100]], BR);
txt(6, 65, 'Temperatura:');
txt(13, 78, 'punkt środkowy', RD); lead([[93, 78], [118, 78]], RD); lead([[132, 77], [140, 78], [158, 106]], RD);
txt(28, 88, 'max/min', '#fbd8cc');
txt(10, 100, 'odczuwana', BL); lead([[71, 101], [138, 101]], BL);
txt(28, 110, 'max/min', '#a8dcfa');
txt(6, 122, 'Temp. punktu rosy', '#6a5acd'); lead([[95, 122], [138, 118]], '#6a5acd');
txt(6, 139, 'Opad powyżej skali', RD); lead([[105, 139], [140, 139], [148, 148]], RD);
txt(6, 154, 'Wilgotność względna', OR); lead([[107, 154], [113, 154]], OR); lead([[132, 153], [150, 170]], OR);
txt(6, 169, 'Wystąpienie burzy'); lead([[106, 169], [115, 169]]); lead([[132, 168], [141, 176]]);
txt(6, 183, 'Deszcz: max', GR); lead([[72, 182], [141, 182]], GR);
txt(50, 194, 'średni', GR); lead([[82, 193], [143, 193]], GR);
txt(6, 205, 'Śnieg:', BL); txt(50, 205, 'max', BL); lead([[72, 205], [113, 205]], BL); lead([[130, 205], [163, 175]], BL);
txt(50, 216, 'średni', BL); lead([[83, 216], [130, 216], [162, 183]], BL);
txt(6, 228, 'Wystąpienie opadu', RD); lead([[98, 228], [146, 228], [148, 224]], RD);
txt(6, 238, 'konwekcyjnego', RD);
txt(5, 264, 'Ciśnienie'); txt(5, 277, 'zredukowane'); txt(5, 290, 'do poziomu morza');
lead([[52, 264], [132, 264], [138, 262]]);
txt(5, 319, 'Wiatr na'); txt(47, 319, '10m:', '#000', { font: '10.5px', family: '"Liberation Serif", serif' });
txt(10, 336, 'poryw powyżej skali', RD); lead([[113, 335], [119, 335]], RD); lead([[132, 335], [141, 317]], RD);
txt(10, 350, 'max porywy wiatru', RD); lead([[108, 350], [130, 350], [146, 342]], RD);
txt(10, 370, 'prędkość wiatru', NAVY); lead([[93, 369], [138, 369]], NAVY);
txt(10, 384, 'w środku obszaru', NAVY);
txt(10, 412, 'kierunek wiatru', NAVY); lead([[88, 412], [145, 412]], NAVY);
txt(6, 431, 'Wierzchołek chmur', BR); lead([[102, 433], [130, 433], [190, 448]], BR);
txt(6, 444, 'Podstawa chmur*'); txt(6, 456, 'o pokryciu');
txt(11, 469, '> 7.9 okt.'); lead([[58, 469], [100, 469], [192, 456]]);
txt(11, 480, '> 6.5 okt.', '#555555'); lead([[57, 481], [145, 481]], '#555555');
txt(11, 491, '> 4.5 okt.', '#999999'); lead([[57, 491], [133, 491], [140, 503]], '#999999');
txt(11, 502, '> 2.5 okt.', '#dddddd'); lead([[57, 502], [133, 502], [140, 507]], '#dddddd');
box(11, 507, 45, 12, '#87cefa'); txt(11, 513, '> 0.1 okt.', '#fff');
lead([[57, 512], [138, 512]], '#87cefa'); lead([[57, 514], [138, 514]], '#87cefa');
txt(6, 528, 'Widzialność', ORANGE); lead([[68, 528], [130, 528], [175, 465]], ORANGE);
txt(6, 545, 'Chmury:');
box(10, 552, 42, 13, '#87cefa'); txt(10, 558, 'wysokie', '#fff');
lead([[55, 558], [188, 558]], '#87cefa'); lead([[55, 560], [188, 560]], '#87cefa');
txt(10, 572, 'średnie', '#999999'); lead([[50, 573], [195, 573]], '#999999');
txt(10, 584, 'niskie', '#444444'); lead([[40, 584], [128, 584]], '#444444'); lead([[131, 584], [138, 584]], '#444444');
txt(10, 595, 'bardzo niskie', '#222222'); lead([[75, 596], [138, 596], [150, 595]], '#222222');
txt(6, 608, 'Mgła', '#ffb400'); lead([[27, 608], [220, 608], [222, 596]], '#ffb400');
txt(6, 625, 'Czas uniwersalny (UTC)', '#000', { font: '12px' }); lead([[140, 625], [150, 625], [160, 610]]);
txt(5, 650, '* powyżej poziomu morza', '#000', { font: 'bold 9px' });

var myChart = echarts.init(document.getElementById('main'), null, { renderer: 'canvas' });
myChart.setOption({
    animation: false,
    backgroundColor: '#fff',
    grid: grids,
    xAxis: xAxes,
    yAxis: yAxes,
    series: series,
    graphic: graphics
});
</script>
</body>
</html>
